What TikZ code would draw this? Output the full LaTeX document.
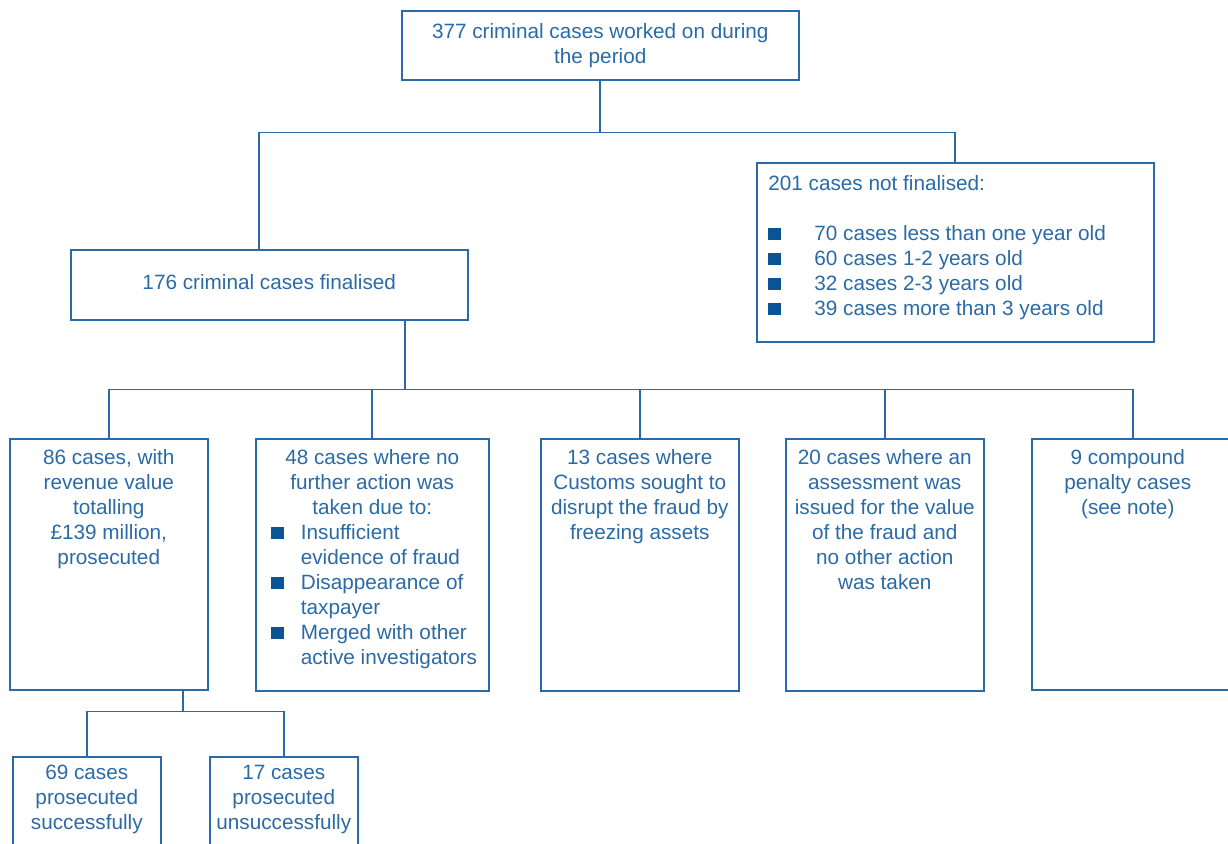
\documentclass[tikz,border=0pt]{standalone}
\usepackage{fontspec}
\setmainfont{Liberation Sans}
\usetikzlibrary{positioning}
\definecolor{caseblue}{RGB}{42,106,166}
\definecolor{bulletblue}{RGB}{10,84,150}
\newcommand{\sqb}{\textcolor{bulletblue}{\rule[0.2pt]{2.5mm}{2.5mm}}}
\newcommand{\bul}[1]{\makebox[#1][l]{\sqb}}
\tikzset{
  box/.style = {draw=caseblue, line width=0.9pt, rectangle, inner sep=0pt, text=caseblue, align=center, font=\fontsize{11.8}{14.2}\selectfont},
  txt/.style = {text=caseblue, inner sep=0pt, align=center, font=\fontsize{11.8}{14.2}\selectfont},
  link/.style = {draw=caseblue, line width=0.9pt}
}
\begin{document}
\begin{tikzpicture}[x=0.02cm, y=-0.02cm]
  \clip (0,0) rectangle (1228,843);
  % top level
  \node[box, anchor=north west, minimum width=7.94cm, minimum height=1.38cm] (period) at (401,10) {377 criminal cases worked on during\\the period};
  \node[box, anchor=north west, minimum width=7.94cm, minimum height=1.40cm] (fin176) at (70,249) {};
  \node[txt] (fin176t) at ([yshift=0.06cm]fin176.center) {176 criminal cases finalised};
  \node[box, anchor=north west, minimum width=7.94cm, minimum height=3.58cm] (open201) at (756,162) {};
  \node[txt, align=left, anchor=north west] (open201t) at ([xshift=0.24cm, yshift=-0.27cm]open201.north west) {201 cases not finalised:\\[0.5cm]
    \bul{0.92cm}70 cases less than one year old\\
    \bul{0.92cm}60 cases 1-2 years old\\
    \bul{0.92cm}32 cases 2-3 years old\\
    \bul{0.92cm}39 cases more than 3 years old};
  % finalised cases
  \node[box, anchor=north west, minimum width=3.96cm, minimum height=5.02cm] (pros86) at (9,438) {};
  \node[box, anchor=north west, minimum width=4.66cm, minimum height=5.04cm] (nfa48) at (255,438) {};
  \node[box, anchor=north west, minimum width=3.96cm, minimum height=5.04cm] (frz13) at (540,438) {};
  \node[box, anchor=north west, minimum width=3.96cm, minimum height=5.04cm] (asm20) at (785,438) {};
  \node[box, anchor=north west, minimum width=4.04cm, minimum height=5.02cm] (cmp9) at (1031,438) {};
  \node[txt, anchor=north] (pros86t) at ([yshift=-0.22cm]pros86.north) {86 cases, with\\revenue value\\totalling\\\pounds139 million,\\prosecuted};
  \node[txt, anchor=north] (nfa48t) at ([yshift=-0.22cm]nfa48.north) {48 cases where no\\further action was\\taken due to:};
  \node[txt, align=left, anchor=north west] (nfa48l) at ([xshift=0.32cm, yshift=-0.19cm]nfa48.west |- nfa48t.south) {\bul{0.59cm}Insufficient\\
    \makebox[0.59cm]{}evidence of fraud\\
    \bul{0.59cm}Disappearance of\\
    \makebox[0.59cm]{}taxpayer\\
    \bul{0.59cm}Merged with other\\
    \makebox[0.59cm]{}active investigators};
  \node[txt, anchor=north] (frz13t) at ([yshift=-0.22cm]frz13.north) {13 cases where\\Customs sought to\\disrupt the fraud by\\freezing assets};
  \node[txt, anchor=north] (asm20t) at ([yshift=-0.22cm]asm20.north) {20 cases where an\\assessment was\\issued for the value\\of the fraud and\\no other action\\was taken};
  \node[txt, anchor=north] (cmp9t) at ([xshift=-0.1cm, yshift=-0.22cm]cmp9.north) {9 compound\\penalty cases\\(see note)};
  % prosecutions
  \node[box, anchor=north west, minimum width=2.96cm, minimum height=2.2cm] (ok69) at (12,756) {};
  \node[box, anchor=north west, minimum width=2.96cm, minimum height=2.2cm] (fail17) at (209,756) {};
  \node[txt, anchor=north] (ok69t) at ([yshift=-0.18cm]ok69.north) {69 cases\\prosecuted\\successfully};
  \node[txt, anchor=north] (fail17t) at ([yshift=-0.18cm]fail17.north) {17 cases\\prosecuted\\unsuccessfully};
  % connectors
  \draw[link] (period.south) -- ++(0,52) coordinate (split) -| ([xshift=-0.2cm]fin176.north);
  \draw[link] (split) -| (open201.north);
  \draw[link] ([xshift=2.71cm]fin176.south) -- ++(0,69) coordinate (row);
  \foreach \b in {pros86,nfa48,frz13,asm20,cmp9}
    \draw[link] (row) -| (\b.north);
  \draw[link] ([xshift=1.48cm]pros86.south) -- ++(0,21) coordinate (prsplit) -| (ok69.north);
  \draw[link] (prsplit) -| (fail17.north);
\end{tikzpicture}
\end{document}
